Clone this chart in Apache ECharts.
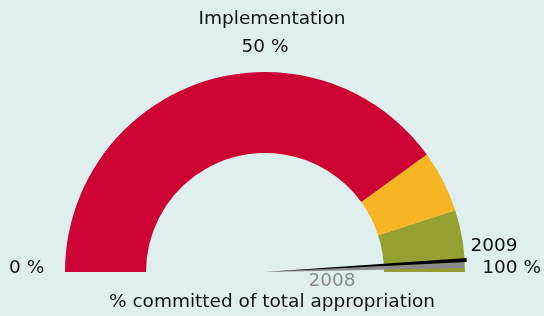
<!DOCTYPE html>
<html>
<head>
<meta charset="utf-8">
<script src="https://cdn.jsdelivr.net/npm/echarts@6/dist/echarts.min.js"></script>
<style>
  html, body { margin: 0; padding: 0; background: #dfefee; }
  #main { width: 544px; height: 316px; }
</style>
</head>
<body>
<div id="main"></div>
<script>
// bands of the gauge (share of total, upper limit) and their colours
var bandLimits = [0.8, 0.9, 1];
var bandColors = ['#cc0033', '#f7b423', '#94a030'];

// needles: year and % committed
var years = ['2009', '2008'];
var committed = [98.1, 98.9];
var needleColors = ['#000000', '#8a8a8a'];

// tick labels at 0, 50, 100
var tickValues = [0, 50, 100];
var tickLabels = ['0 %', '50 %', '100 %'];

var font = 'DejaVu Sans';
var fs = 18.5;
var chart = echarts.init(document.getElementById('main'));

function needle(i, width, len, titleOffset) {
    return {
        type: 'gauge',
        center: [265, 272],
        radius: 200,
        startAngle: 180,
        endAngle: 0,
        min: 0,
        max: 100,
        splitNumber: 2,
        axisLine: { show: false },
        axisTick: { show: false },
        splitLine: { show: false },
        axisLabel: { show: false },
        anchor: { show: false },
        pointer: {
            icon: 'path://M0,0 L10,0 L5,100 Z',
            width: width,
            length: len
        },
        itemStyle: { color: needleColors[i] },
        title: {
            offsetCenter: titleOffset,
            color: i === 0 ? '#111' : '#8a8a8a',
            fontSize: fs,
            fontFamily: font
        },
        detail: { show: false },
        data: [{ value: committed[i], name: years[i] }]
    };
}

option = {
    backgroundColor: '#dfefee',
    title: [
        {
            text: 'Implementation',
            left: 'center',
            top: 5,
            textStyle: { color: '#111', fontSize: fs, fontWeight: 'normal', fontFamily: font }
        },
        {
            text: '% committed of total appropriation',
            left: 'center',
            top: 288,
            textStyle: { color: '#111', fontSize: fs, fontWeight: 'normal', fontFamily: font }
        }
    ],
    series: [
        {
            type: 'gauge',
            center: [265, 272],
            radius: 200,
            startAngle: 180,
            endAngle: 0,
            min: 0,
            max: 100,
            splitNumber: 2,
            axisLine: {
                lineStyle: {
                    width: 81,
                    color: bandLimits.map(function (b, i) { return [b, bandColors[i]]; })
                }
            },
            axisTick: { show: false },
            splitLine: { show: false, length: 0 },
            pointer: { show: false },
            anchor: { show: false },
            detail: { show: false },
            title: { show: false },
            axisLabel: {
                distance: -86,
                color: '#111',
                fontSize: fs,
                fontFamily: font,
                formatter: function (v) {
                    var i = tickValues.indexOf(v);
                    return i < 0 ? '' : '{p' + i + '|' + tickLabels[i] + '}';
                },
                rich: {
                    p0: { padding: [0, 0, 8, 20], fontSize: fs, fontFamily: font, color: '#111' },
                    p1: { padding: [42, 0, 0, 0], fontSize: fs, fontFamily: font, color: '#111' },
                    p2: { padding: [0, 0, 8, 0], fontSize: fs, fontFamily: font, color: '#111' }
                }
            },
            data: [{ value: 0 }]
        },
        needle(1, 6, 199, [67, 9]),
        needle(0, 4, 202, [229, -26])
    ]
};

chart.setOption(option);
</script>
</body>
</html>
